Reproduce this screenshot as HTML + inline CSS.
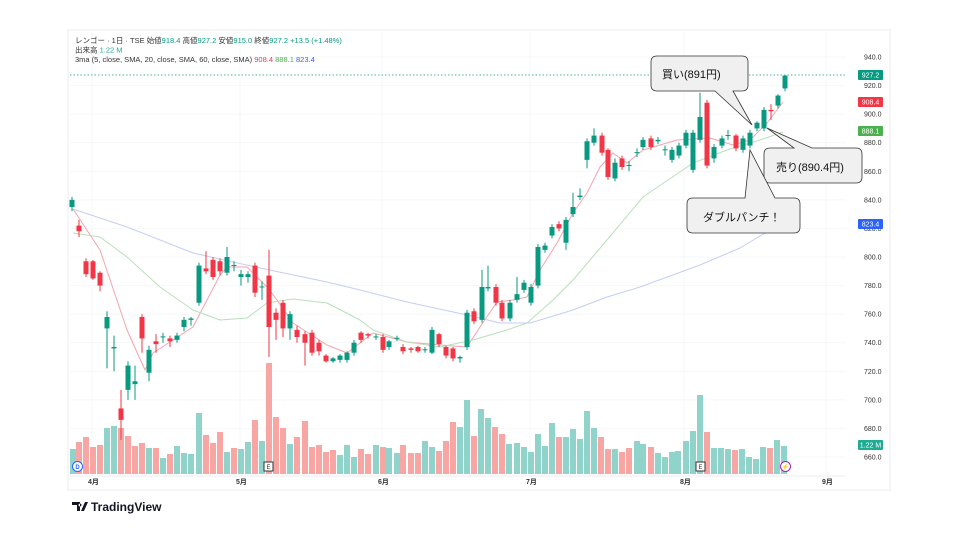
<!DOCTYPE html>
<html><head><meta charset="utf-8"><style>
body{margin:0;background:#fff;}
svg{display:block;font-family:"Liberation Sans","Noto Sans CJK JP",sans-serif;}
</style></head><body>
<svg id="s" width="960" height="540" viewBox="0 0 960 540" xmlns="http://www.w3.org/2000/svg">
<rect x="68" y="30" width="822" height="460" fill="#fff" stroke="#eceef2"/>
<g id="grid"></g>
<g id="vol"></g>
<g id="ma"></g>
<g id="cdl"></g>
<line x1="70" y1="75" x2="846" y2="75" stroke="#089981" stroke-width="0.7" stroke-dasharray="1.5,2"/>
<g id="axis" font-size="7" fill="#333"></g>
<g font-size="7.5" fill="#333">
<text x="75" y="43">レンゴー · 1日 · TSE  始値<tspan fill="#089981">918.4</tspan> 高値<tspan fill="#089981">927.2</tspan> 安値<tspan fill="#089981">915.0</tspan> 終値<tspan fill="#089981">927.2 +13.5 (+1.48%)</tspan></text>
<text x="75" y="52.5">出来高 <tspan fill="#22ab94">1.22 M</tspan></text>
<text x="75" y="62">3ma (5, close, SMA, 20, close, SMA, 60, close, SMA) <tspan fill="#f23645">908.4</tspan> <tspan fill="#4caf50">888.1</tspan> <tspan fill="#2962ff">823.4</tspan></text>
</g>
<g font-size="7" font-weight="bold" fill="#333">
<text x="88" y="484">4月</text><text x="236" y="484">5月</text><text x="378" y="484">6月</text><text x="526" y="484">7月</text><text x="680" y="484">8月</text><text x="822" y="484">9月</text>
</g>
<circle cx="77.5" cy="466.5" r="5" fill="#fff" stroke="#2962ff"/><text x="77.5" y="469" font-size="6" text-anchor="middle" fill="#2962ff" font-weight="bold">D</text>
<rect x="264" y="462" width="9" height="9" fill="#fff" stroke="#333"/><text x="268.5" y="469" font-size="6" text-anchor="middle" fill="#333">E</text>
<rect x="696" y="462" width="9" height="9" fill="#fff" stroke="#333"/><text x="700.5" y="469" font-size="6" text-anchor="middle" fill="#333">E</text>
<circle cx="785.5" cy="466.5" r="5" fill="#fff" stroke="#9c27b0"/><text x="785.5" y="469" font-size="6" text-anchor="middle" fill="#9c27b0">⚡</text>
<g id="tags" font-size="7" fill="#fff"></g>
<g stroke="#333" stroke-width="0.8" fill="#f0f0f0">
<path d="M657,56 H742 Q748,56 748,62 V85 Q748,91 742,91 H733 L752,125 L715,91 H657 Q651,91 651,85 V62 Q651,56 657,56 Z"/>
<path d="M770,148 H794 L767,128 L812,148 H856 Q862,148 862,154 V177 Q862,183 856,183 H770 Q764,183 764,177 V154 Q764,148 770,148 Z"/>
<path d="M693,198 H745 L750,150 L775,198 H794 Q800,198 800,204 V227 Q800,233 794,233 H693 Q687,233 687,227 V204 Q687,198 693,198 Z"/>
</g>
<g font-size="11" fill="#111">
<text x="662" y="78">買い(891円)</text>
<text x="776" y="171">売り(890.4円)</text>
<text x="703" y="221">ダブルパンチ！</text>
</g>
<g transform="translate(72,501)"><path d="M0,1 H8 V10 H5 V4 H0 Z M9,10 L13,1 H16 L12,10 Z M8,2.5 a1.5,1.5 0 1,0 0.01,0" fill="#131722"/></g>
<text x="91" y="511" font-size="12" font-weight="bold" fill="#131722">TradingView</text>
</svg>
<script>
var NS="http://www.w3.org/2000/svg";
function Y(p){return 57+(940-p)*400/280;}
function el(g,t,a){var e=document.createElementNS(NS,t);for(var k in a)e.setAttribute(k,a[k]);document.getElementById(g).appendChild(e);return e;}
// grid + axis
for(var p=660;p<=940;p+=20){var y=Y(p);el('grid','line',{x1:70,x2:846,y1:y,y2:y,stroke:'#f3f4f6','stroke-width':0.7});
 var t=el('axis','text',{x:864,y:y+2.5});t.textContent=p.toFixed(1);}
[92,240,382,530,684,826].forEach(function(x){el('grid','line',{x1:x,x2:x,y1:32,y2:476,stroke:'#f3f4f6','stroke-width':0.7});});
el('grid','line',{x1:70,x2:846,y1:476,y2:476,stroke:'#e6e8ec','stroke-width':0.7});
var C=[[72,835,840,842,832],[79,822,818,826,814],[86,797,788,799,786],[93,797,785,798,784],[100,789,780,790,776],[107,750,758,762,722],[114,736,737,745,720],[121,694,686,707,672],[128,707,724,727,700],[135,711,713,724,700],[142,758,743,760,733],[149,719,735,738,713],[156,741,739,746,733],[163,744,744.4,747,740],[170,743,741,745,737],[177,742,745,747,740],[184,751,756,758,748],[191,756,757,758,752],[199,768,794,796,766],[206,792,790,804,788],[213,798,786,800,784],[220,797,790,799,787],[227,789,800,807,787],[234,794,794.4,797,790],[241,786,788,791,780],[248,786,788,790,782],[255,794,775,796,772],[262,779,779.4,783,770],[269,787,751,805,730],[276,761,756,764,742],[283,768,750,770,744],[290,750,760,762,742],[297,749,744,752,740],[305,746,740,748,724],[312,747,733,749,731],[319,740,734,742,731],[326,731,727,732,726],[333,727,729,730,726],
[340,728,731,732,726],[347,728,733,734,726],[354,733,740,742,731],[361,747,742,748,740],[368,746,745,747,743],[376,744,744.4,746,742],[383,744,735,746,733],[389,737,741,742,735],[397,743,743.4,745,741],[403,737,734,739,732],[411,736,735,737,733],[418,737,734,738,733],[425,735,735.4,737,733],[432,733,749,751,732],[439,746,739,747,737],[446,737,731,738,729],[453,736,729,737,727],[460,729,730,731,726],[467,737,761,763,735],[474,762,755,764,753],[482,756,779,791,754],[488,778,779,794,776],[496,779,768,781,766],[502,768,757,770,755],[510,757,768,770,755],[517,770,774,786,768],[524,777,782,784,775],[531,768,779,781,766],[538,780,807,809,778],[545,805,808,810,803],[552,815,821,823,813],[559,823,820,825,818],[566,810,826,828,805],[573,830,835,845,828],[580,842,843,848,840],[587,868,881,883,862],[594,880,885,890,878],[602,885,873,887,871],[608,875,856,876,854],[615,855,866,869,853],[622,869,863,871,861],[629,864,864.4,867,860],[637,873,873.4,876,870],[643,877,882,884,875],[651,883,877,885,875],[658,881,882,884,879],[665,875,875.4,878,871],[672,868,875,877,866],[679,871,878,880,869],[686,878,887,889,876],[693,861,887,889,859],[700,882,898,915,880],[707,908,864,910,862],[714,869,877,879,866],[722,878,883,885,876],[728,885,885.4,889,882],[736,885,876,886,874],[743,875,883,885,873],[750,878,887,889,876],[757,890,894,895,888],[764,890,903,905,888],[771,903,902,907,896],[778,906,913,914,904],[785,918,927,927,916]];
C.forEach(function(c){var up=c[2]>=c[1];var col=up?'#089981':'#f23645';
 el('cdl','line',{x1:c[0],x2:c[0],y1:Y(c[3]),y2:Y(c[4]),stroke:col,'stroke-width':1});
 var t=Y(Math.max(c[1],c[2])),b=Y(Math.min(c[1],c[2]));
 el('cdl','rect',{x:c[0]-2.5,y:t,width:5,height:Math.max(1,b-t),fill:col});});
var V=[[73,449,1],[79,442,0],[86,437,0],[93,447,0],[100,445,0],[107,428,1],[114,426,1],[121,428,0],[128,436,0],[135,446,0],[142,443,0],[149,448,1],[156,448,0],[163,458,1],[170,454,0],[177,446,1],[184,453,1],[191,454,1],[199,413,1],[206,435,0],[213,443,0],[220,432,0],[227,452,1],[234,448,0],[241,449,1],[248,442,1],[255,420,0],[262,441,1],[269,363,0],[276,417,0],[283,428,0],[290,444,1],[297,437,0],[305,421,0],[312,447,0],[319,445,0],[326,452,0],[333,450,0],[340,455,1],[347,445,1],[354,457,1],[361,449,0],[368,454,0],[376,445,1],[383,447,0],[389,448,1],[397,453,1],[403,445,0],[411,453,0],[418,453,0],[425,441,1],[432,447,1],[439,451,0],[446,441,0],[453,422,0],[460,427,1],[467,400,1],[474,436,0],[481,409,1],[488,418,1],[495,427,0],[502,434,0],[509,444,1],[517,443,1],[524,447,1],[531,452,1],[538,434,1],[545,446,1],[552,423,1],[559,437,0],[566,437,1],[573,429,1],[580,439,1],[587,411,1],[594,428,1],[601,437,0],[608,449,0],[615,449,1],[622,452,0],[629,448,0],[637,441,1],[643,444,1],[651,447,0],[658,453,1],[665,457,1],[672,452,1],[678,451,1],[686,441,1],[693,431,1],[700,395,1],[707,432,0],[714,448,1],[721,448,1],[728,449,1],[735,450,0],[742,449,1],[749,457,1],[756,459,1],[763,447,1],[770,448,0],[777,440,1],[784,446,1]];
V.forEach(function(v){el('vol','rect',{x:v[0]-3,y:v[1],width:6,height:474-v[1],fill:v[2]?'#8fd3cb':'#f7a6a4'});});
function pl(pts,col){el('ma','polyline',{points:pts,fill:'none',stroke:col,'stroke-width':1,'stroke-linejoin':'round'});}
pl("73,209 100,250 127,330 145,370 153,353 193,327 220,275 227,267 247,267 267,287 277,300 293,323 327,345 347,353 373,333 407,342 440,345 467,347 480,327 497,302 513,300 527,297 540,270 557,243 573,213 587,193 600,167 613,153 627,163 643,150 677,140 710,138 733,145 750,140 767,123 783,102",'#f5a3ab');
pl("73,233 100,237 127,257 160,287 193,310 220,320 247,318 267,303 293,299 327,303 360,320 373,330 407,342 440,347 473,340 507,330 527,323 553,300 573,280 607,240 643,197 693,163 727,150 760,140 783,132",'#b9dfbb');
pl("73,209 127,227 193,253 260,268 327,282 360,290 407,302 467,315 500,323 530,323 573,310 607,297 640,287 700,265 740,248 770,230",'#c5cdf5');
function tag(y,txt,col){el('tags','rect',{x:858,y:y-5,width:25,height:10,rx:1,fill:col});var t=el('tags','text',{x:870.5,y:y+2.5,'text-anchor':'middle'});t.textContent=txt;}
tag(75,'927.2','#089981');tag(102,'908.4','#f23645');tag(131,'888.1','#4caf50');tag(224,'823.4','#2962ff');tag(445,'1.22 M','#22ab94');
</script>
</body></html>
